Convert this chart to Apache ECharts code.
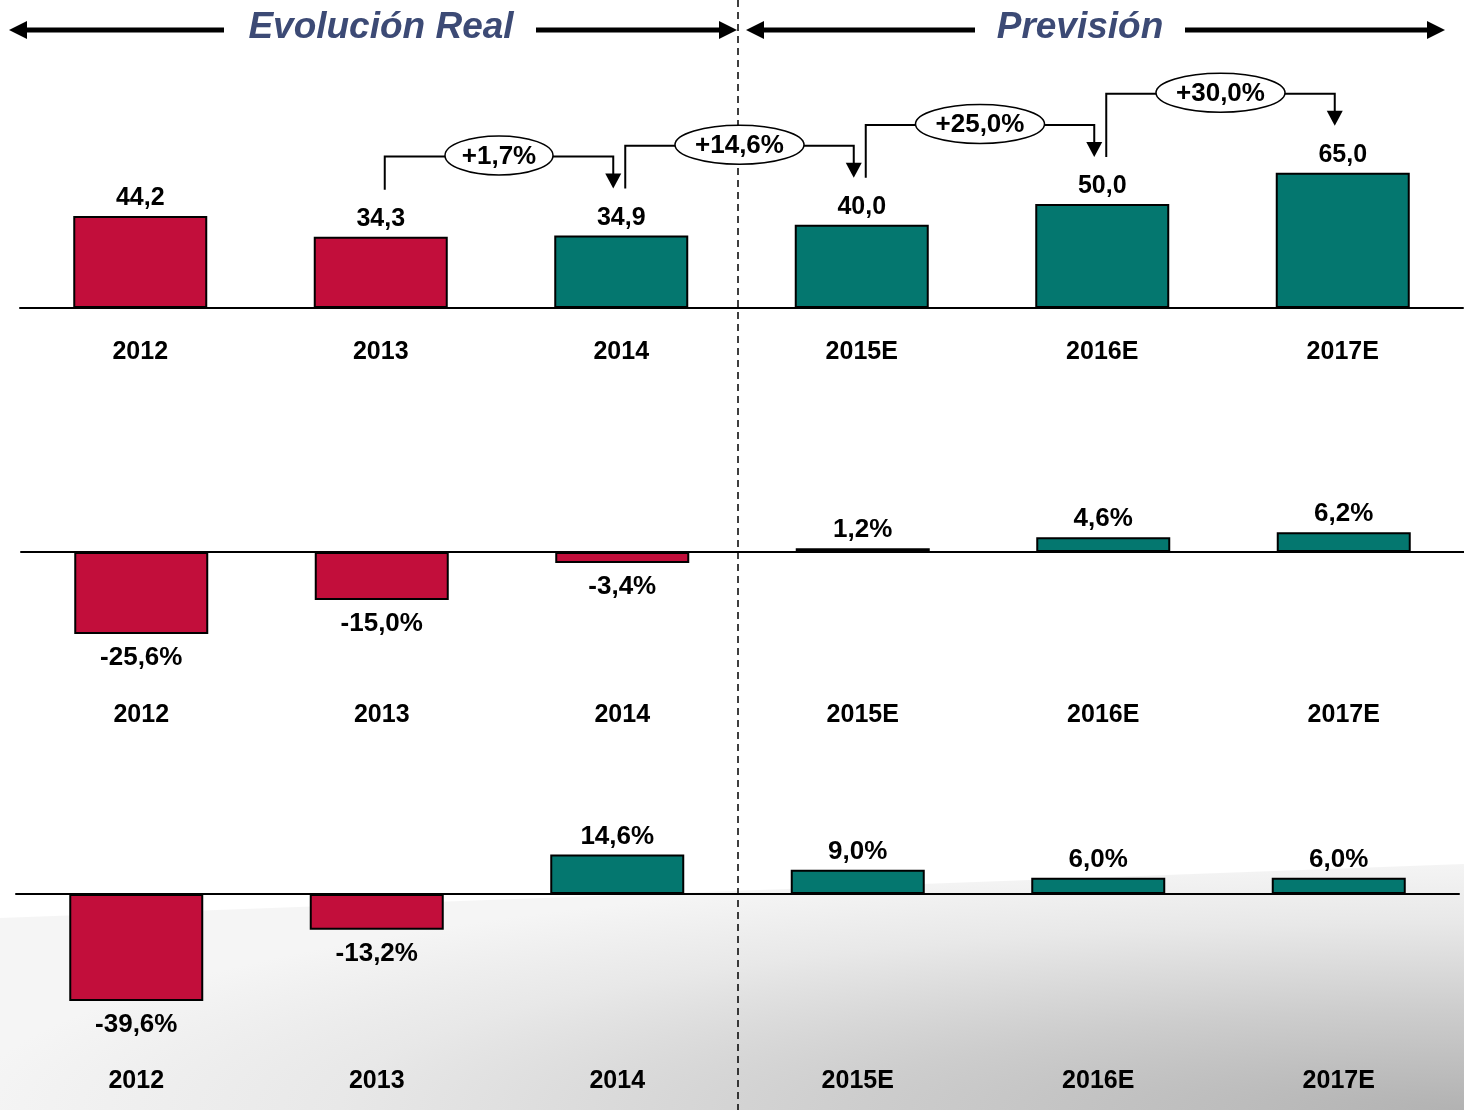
<!DOCTYPE html>
<html>
<head>
<meta charset="utf-8">
<script src="https://cdn.jsdelivr.net/npm/echarts@6/dist/echarts.min.js"></script>
<style>
  html, body { margin: 0; padding: 0; background: #fff; }
  #chart { width: 1464px; height: 1110px; }
</style>
</head>
<body>
<div id="chart"></div>
<script>
// datos
const years = ['2012', '2013', '2014', '2015E', '2016E', '2017E']
const ventas = [44.2, 34.3, 34.9, 40.0, 50.0, 65.0]
const varVentas = [-25.6, -15.0, -3.4, 1.2, 4.6, 6.2]
const varMercado = [-39.6, -13.2, 14.6, 9.0, 6.0, 6.0]
// crecimiento entre años consecutivos (desde 2013)
const growthFrom = [1, 2, 3, 4]
const growthLabels = ['+1,7%', '+14,6%', '+25,0%', '+30,0%']

const UP = '#04776F'
const DOWN = '#C20E3B'
const FONT = '"Liberation Sans", Arial, sans-serif'

const chart = echarts.init(document.getElementById('chart'))

const fmt = (v, pct) => v.toFixed(1).replace('.', ',') + (pct ? '%' : '')

function barData(values, colorOf) {
  return values.map((v, i) => ({
    value: v,
    itemStyle: { color: colorOf(v, i) },
    label: { position: v < 0 ? 'bottom' : 'top', distance: v < 0 ? 11 : 5 },
  }))
}

const grids = [
  { left: 20, width: 1443, top: 100, height: 208 },
  { left: 21, width: 1443, top: 488, height: 192 },
  { left: 16, width: 1443, top: 840, height: 216 },
]
const yRanges = [[0, 100], [-40, 20], [-60, 20]]
const labelMargins = [32, 23, 13]

const xAxes = []
grids.forEach((g, i) => {
  // eje con las etiquetas de año (abajo del grid)
  xAxes.push({
    type: 'category', gridIndex: i, data: years, position: 'bottom',
    axisLine: { show: false, onZero: false }, axisTick: { show: false },
    axisLabel: { color: '#000', fontWeight: 'bold', fontSize: 25, fontFamily: FONT, margin: labelMargins[i], interval: 0 },
  })
  // linea del cero
  xAxes.push({
    type: 'category', gridIndex: i, data: years, position: 'bottom',
    axisLine: { show: true, onZero: true, lineStyle: { color: '#000', width: 2 } },
    axisTick: { show: false }, axisLabel: { show: false },
  })
})

const seriesDefs = [
  { values: ventas, pct: false, size: 25, color: (v, i) => (varMercado[i] < 0 ? DOWN : UP) },
  { values: varVentas, pct: true, size: 26, color: (v) => (v < 0 ? DOWN : UP) },
  { values: varMercado, pct: true, size: 26, color: (v) => (v < 0 ? DOWN : UP) },
]

chart.setOption({
  animation: false,
  backgroundColor: '#fff',
  grid: grids.map((g) => Object.assign({ containLabel: false, outerBoundsMode: 'none' }, g)),
  xAxis: xAxes,
  yAxis: yRanges.map((r, i) => ({
    type: 'value', gridIndex: i, min: r[0], max: r[1], show: false, splitLine: { show: false },
  })),
  series: seriesDefs.map((s, i) => ({
    type: 'bar',
    xAxisIndex: i * 2,
    yAxisIndex: i,
    barWidth: 134,
    data: barData(s.values, s.color),
    itemStyle: { borderColor: '#000', borderWidth: 2 },
    label: {
      show: true,
      color: '#000',
      fontWeight: 'bold',
      fontSize: s.size,
      fontFamily: FONT,
      formatter: (p) => fmt(p.value, s.pct),
    },
  })),
})

// --- elementos graficos: cabecera, separador, fondo y flechas de crecimiento ---
const graphic = []

// fondo gris degradado (abajo a la derecha), dibujado escalado en x para un degradado eliptico
const SX = 6
graphic.push({
  type: 'polygon', z: -100, silent: true, x: 0, y: 0, scaleX: SX, scaleY: 1,
  shape: { points: [[0, 918], [1464 / SX, 864], [1464 / SX, 1110], [0, 1110]] },
  style: {
    fill: new echarts.graphic.RadialGradient(1464 / SX, 1110, 250, [
      { offset: 0, color: '#b2b2b2' },
      { offset: 0.4, color: '#cdcdcd' },
      { offset: 0.75, color: '#e8e8e8' },
      { offset: 1, color: '#f5f5f5' },
    ], true),
  },
})

graphic.push({
  type: 'line', z: 1, silent: true,
  shape: { x1: 738, y1: 0, x2: 738, y2: 1110 },
  style: { stroke: '#000', lineWidth: 1.5, lineDash: [7, 5] },
})

function headerArrow(from, to, y) {
  const dir = to > from ? 1 : -1
  graphic.push({
    type: 'line', z: 5, silent: true,
    shape: { x1: from, y1: y, x2: to - dir * 14, y2: y },
    style: { stroke: '#000', lineWidth: 5 },
  })
  graphic.push({
    type: 'polygon', z: 5, silent: true,
    shape: { points: [[to, y], [to - dir * 18, y - 9], [to - dir * 18, y + 9]] },
    style: { fill: '#000' },
  })
}
headerArrow(224, 9, 30)
headerArrow(536, 737, 30)
headerArrow(975, 746, 30)
headerArrow(1185, 1445, 30)

function headerText(text, x) {
  graphic.push({
    type: 'text', z: 5, silent: true, x: x, y: 28,
    style: {
      text: text, fill: '#3C4A75', font: 'italic bold 37px ' + FONT,
      textAlign: 'center', textVerticalAlign: 'middle',
    },
  })
}
headerText('Evolución Real', 381)
headerText('Previsión', 1080)

const px = (i, v) => chart.convertToPixel({ xAxisIndex: 0, yAxisIndex: 0 }, [i, v])

growthFrom.forEach((i, k) => {
  const a = px(i, ventas[i])
  const b = px(i + 1, ventas[i + 1])
  const xs = a[0] + 4
  const xe = b[0] - 8
  const ys = a[1] - 47
  const ye = b[1] - 47
  const level = Math.min(ys, ye) - 32
  graphic.push({
    type: 'polyline', z: 8, silent: true,
    shape: { points: [[xs, ys], [xs, level], [xe, level], [xe, ye - 14]] },
    style: { stroke: '#000', lineWidth: 2, fill: null },
  })
  graphic.push({
    type: 'polygon', z: 8, silent: true,
    shape: { points: [[xe - 8, ye - 15], [xe + 8, ye - 15], [xe, ye]] },
    style: { fill: '#000' },
  })
  const label = growthLabels[k]
  const cx = (xs + xe) / 2
  graphic.push({
    type: 'ellipse', z: 10, silent: true,
    shape: { cx: cx, cy: level - 1, rx: 10.5 * label.length + 1.5, ry: 19.5 },
    style: { fill: '#fff', stroke: '#000', lineWidth: 1.5 },
  })
  graphic.push({
    type: 'text', z: 11, silent: true, x: cx, y: level,
    style: {
      text: label, fill: '#000', font: 'bold 26px ' + FONT,
      textAlign: 'center', textVerticalAlign: 'middle',
    },
  })
})

chart.setOption({ graphic: graphic })
</script>
</body>
</html>
